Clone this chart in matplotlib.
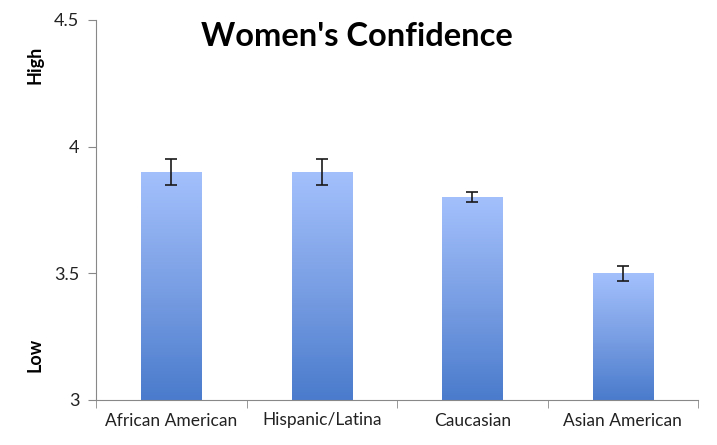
import numpy as np
from matplotlib import pyplot as plt
from matplotlib.colors import LinearSegmentedColormap

categories = ['African American', 'Hispanic/Latina', 'Caucasian', 'Asian American']
values = [3.9, 3.9, 3.8, 3.5]
errors = [0.05, 0.05, 0.02, 0.03]
yticks = [3, 3.5, 4, 4.5]

plt.rcParams['font.family'] = ['Lato', 'DejaVu Sans']

W, H = 717, 445
fig = plt.figure(figsize=(W / 100, H / 100), dpi=100)
ax = fig.add_axes([96 / W, 45 / H, 602 / W, 380 / H])

x = np.arange(len(categories))
width = 0.4
grad = LinearSegmentedColormap.from_list('bar', ['#4a7bcc', '#7a9fe4', '#a3c0fc'])
g = np.linspace(0, 1, 256).reshape(-1, 1)

bars = ax.bar(x, values, width, bottom=0, color='none', edgecolor='none')
for b in bars:
    x0, w, h = b.get_x(), b.get_width(), b.get_height()
    ax.imshow(g, cmap=grad, origin='lower', aspect='auto',
              extent=[x0, x0 + w, 3, h], zorder=2)
ax.errorbar(x, values, yerr=errors, fmt='none', ecolor='#1a1a1a',
            elinewidth=1.2, capsize=4, capthick=1.2, zorder=3)

ax.set_xlim(-0.5, len(categories) - 0.5)
ax.set_ylim(3, 4.5)
ax.set_yticks(yticks)
ax.set_yticklabels(['3', '3.5', '4', '4.5'])
ax.set_xticks(x)
ax.set_xticklabels(categories)
ax.set_xticks(np.arange(len(categories) + 1) - 0.5, minor=True)
ax.tick_params(axis='x', which='major', length=0, labelsize=12.5, pad=9,
               labelcolor='#222222')
ax.tick_params(axis='x', which='minor', length=6, color='#888888')
ax.tick_params(axis='y', length=6, color='#888888', labelsize=13, pad=6,
               labelcolor='#222222')
for side in ['top', 'right']:
    ax.spines[side].set_visible(False)
for side in ['left', 'bottom']:
    ax.spines[side].set_color('#888888')

fig.text(357 / W, 1 - 36 / H, "Women's Confidence", ha='center', va='center',
         fontsize=23.5, fontweight='bold')
fig.text(35 / W, 1 - 65 / H, 'High', rotation=90, ha='center', va='center',
         fontsize=13, fontweight='bold')
fig.text(35 / W, 1 - 355 / H, 'Low', rotation=90, ha='center', va='center',
         fontsize=13, fontweight='bold')

fig.savefig('out.png', dpi=100)
